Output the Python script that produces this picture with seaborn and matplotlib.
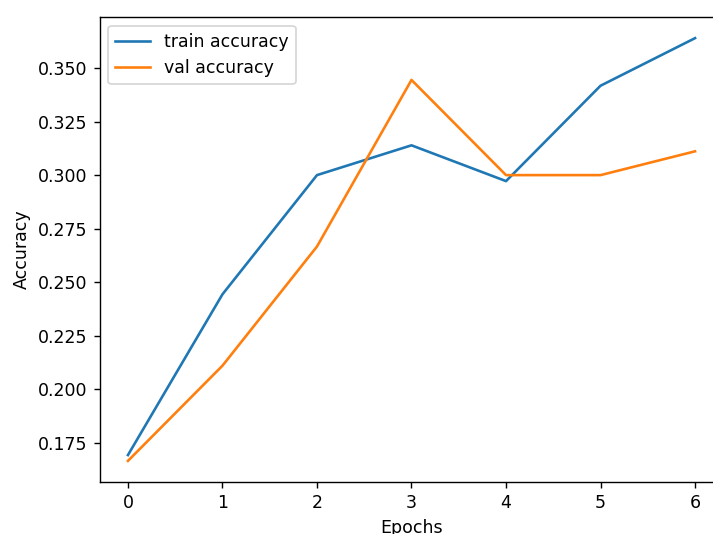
import numpy as np
import pandas as pd
import matplotlib
matplotlib.use("Agg")
import matplotlib.pyplot as plt
import seaborn as sns

epochs = [0, 1, 2, 3, 4, 5, 6]
train_acc = [0.1694, 0.2444, 0.3000, 0.3139, 0.2972, 0.3417, 0.3639]
val_acc = [0.1667, 0.2111, 0.2667, 0.3444, 0.3000, 0.3000, 0.3111]

DPI = 125.6
fig = plt.figure(figsize=(713 / DPI, 534 / DPI), dpi=DPI)
# axes run past the right edge, as in the cropped reference
ax = fig.add_axes([99.6 / 713, 52 / 534, 623.8 / 713, 465 / 534])

sns.lineplot(x=epochs, y=train_acc, ax=ax, label="train accuracy", color="#1f77b4")
sns.lineplot(x=epochs, y=val_acc, ax=ax, label="val accuracy", color="#ff7f0e")

ax.set_xlabel("Epochs")
ax.set_ylabel("Accuracy")
ax.legend(loc="upper left")

fig.savefig("out.png", dpi=DPI)
